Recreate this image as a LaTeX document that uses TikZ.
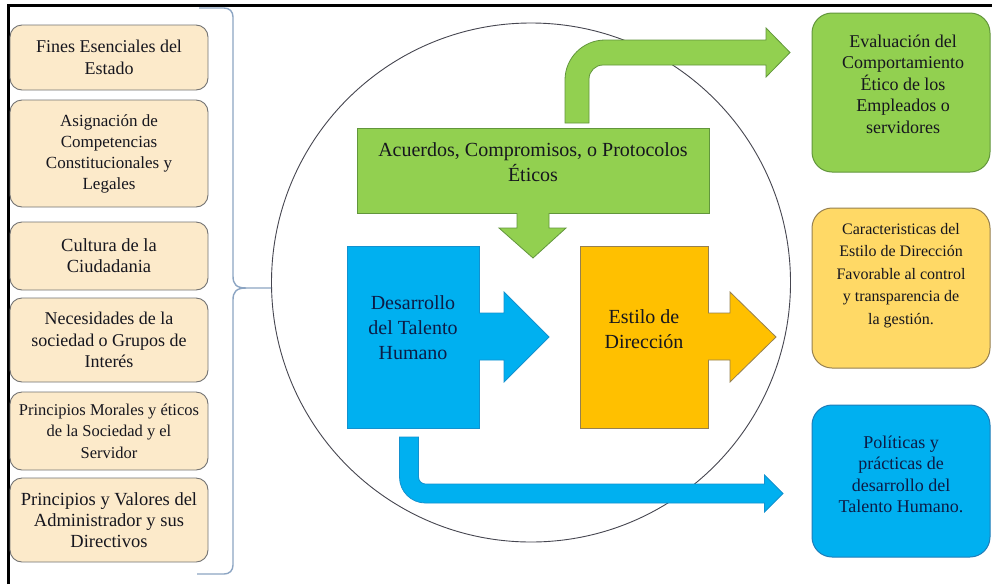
\documentclass[tikz,border=0pt]{standalone}
\usepackage{fontspec}
\setmainfont{Liberation Serif}
\definecolor{peachfill}{RGB}{252,234,202}
\definecolor{boxgray}{RGB}{115,115,115}
\definecolor{gfill}{RGB}{146,208,80}
\definecolor{gline}{RGB}{98,150,60}
\definecolor{bfill}{RGB}{0,176,240}
\definecolor{bline}{RGB}{30,125,185}
\definecolor{ofill}{RGB}{255,192,0}
\definecolor{oline}{RGB}{150,128,80}
\definecolor{yfill}{RGB}{255,217,102}
\definecolor{ringcol}{RGB}{70,70,80}
\definecolor{bracecol}{RGB}{140,165,195}
\definecolor{ink}{RGB}{22,22,30}
\definecolor{navy}{RGB}{12,28,70}
\begin{document}
\begin{tikzpicture}[x=1pt,y=-1pt,
  leftbox/.style={draw=boxgray, fill=peachfill, rounded corners=12pt, line width=0.9pt,
    minimum width=198pt, inner sep=0pt, align=center, text=ink},
  rightbox/.style={rounded corners=20pt, line width=1pt, minimum width=178pt, inner sep=0pt},
  blockbox/.style={inner sep=0pt, line width=0.8pt},
  lbl/.style={inner sep=0pt, align=center, text=ink},
  f16/.style={font={\fontsize{16}{22.5}\selectfont}},
  f165/.style={font={\fontsize{16.5}{21.5}\selectfont}},
  f17/.style={font={\fontsize{17}{21}\selectfont}},
  f18/.style={font={\fontsize{18}{21.5}\selectfont}},
  f185/.style={font={\fontsize{18.5}{21}\selectfont}},
  f20/.style={font={\fontsize{20}{25}\selectfont}},
]
\useasboundingbox (0,0) rectangle (992,584);
\fill[white] (0,0) rectangle (992,584);

% frame on the top and left edges
\draw[line width=3pt, black] (8,584) -- (8,5) -- (992,5);

% central ring
\node[draw=ringcol, circle, line width=0.9pt, minimum size=519pt, inner sep=0pt] (ring) at (531,282.5) {};

% brace grouping the left column
\coordinate (tip) at (271,288);
\draw[bracecol, line width=1.4pt]
  (199,8) -- (224,8) .. controls (229.5,8) and (233,11.5) .. (233,17) -- (233,276)
  .. controls (233,284) and (236,288) .. (246,288) -- (tip);
\draw[bracecol, line width=1.4pt]
  (197,574) -- (224,574) .. controls (229.5,574) and (233,570.5) .. (233,565) -- (233,300)
  .. controls (233,292) and (236,288) .. (246,288);

% left column
\node[leftbox, f18, minimum height=65pt]  (lb1) at (109,57.5) {Fines Esenciales del\\Estado};
\node[leftbox, f17, minimum height=107pt] (lb2) at (109,153.5) {Asignación de\\Competencias\\Constitucionales y\\Legales};
\node[leftbox, f185, minimum height=68pt] (lb3) at (109,256) {Cultura de la\\Ciudadania};
\node[leftbox, f18, minimum height=84pt]  (lb4) at (109,340) {Necesidades de la\\sociedad o Grupos de\\Interés};
\node[leftbox, f165, minimum height=78pt] (lb5) at (109,431) {Principios Morales y éticos\\de la Sociedad y el\\Servidor};
\node[leftbox, f185, minimum height=84pt] (lb6) at (109,520) {Principios y Valores del\\Administrador y sus\\Directivos};

% green agreements block
\node[blockbox, draw=gline, fill=gfill, minimum width=352pt, minimum height=85pt] (gbox) at (533,170.5) {};
\node[lbl, f20] (gtext) at (533,162.5) {Acuerdos, Compromisos, o Protocolos\\Éticos};

% green arrow pointing down
\fill[gfill] (517,212.5) -- (517,228) -- (499,228) -- (533,258) -- (566,228) -- (549,228) -- (549,212.5) -- cycle;
\draw[gline, line width=0.8pt] (517,213) -- (517,228) -- (499,228) -- (533,258) -- (566,228) -- (549,228) -- (549,213);

% green bent arrow up and to the right
\draw[gline, fill=gfill, line width=0.8pt]
  (565,123) -- (565,80) .. controls (565,58) and (583,40) .. (605,40) -- (766,40) -- (766,28)
  -- (790,52.5) -- (766,77) -- (766,65) -- (603,65)
  .. controls (595.3,65) and (589,71.3) .. (589,79) -- (589,123) -- cycle;

% blue talent block and its arrow
\node[blockbox, draw=bline!60!bfill, fill=bfill, minimum width=132pt, minimum height=182pt] (bsq) at (413,337) {};
\fill[bfill] (478.5,313) -- (504,313) -- (504,292) -- (549,337) -- (504,382) -- (504,360) -- (478.5,360) -- cycle;
\draw[bline!60!bfill, line width=0.8pt] (479,313) -- (504,313) -- (504,292) -- (549,337) -- (504,382) -- (504,360) -- (479,360);
\node[lbl, f20, text=navy] (btext) at (413,328) {Desarrollo\\del Talento\\Humano};

% orange direction block and its arrow
\node[blockbox, draw=oline, fill=ofill, minimum width=128pt, minimum height=182pt] (osq) at (644,337) {};
\fill[ofill] (707.5,313) -- (730,313) -- (730,292) -- (776,337) -- (730,382) -- (730,360) -- (707.5,360) -- cycle;
\draw[oline, line width=0.8pt] (708,313) -- (730,313) -- (730,292) -- (776,337) -- (730,382) -- (730,360) -- (708,360);
\node[lbl, f20] (otext) at (644,329.5) {Estilo de\\Dirección};

% blue bent arrow down and to the right
\draw[bline!60!bfill, fill=bfill, line width=0.8pt]
  (399.5,437) -- (399.5,477) .. controls (399.5,491.4) and (411.1,503) .. (425.5,503)
  -- (764.5,503) -- (764.5,512) -- (783,493.5) -- (764.5,475) -- (764.5,484) -- (425.5,484)
  .. controls (421.6,484) and (418.5,480.9) .. (418.5,477) -- (418.5,437) -- cycle;

% right column
\node[rightbox, draw=gline, fill=gfill, minimum height=159pt] (rg) at (901,92.5) {};
\node[lbl, f18] (rgtext) at (903,84) {Evaluación del\\Comportamiento\\Ético de los\\Empleados o\\servidores};

\node[rightbox, draw=oline, fill=yfill, minimum height=160pt] (ro) at (901,288) {};
\node[lbl, f16] (rotext) at (901,275.5) {Caracteristicas del\\Estilo de Dirección\\Favorable al control\\y transparencia de\\la gestión.};

\node[rightbox, draw=bline, fill=bfill, minimum height=152pt] (rb) at (901,481) {};
\node[lbl, f18, text=navy] (rbtext) at (901,474.5) {Políticas y\\prácticas de\\desarrollo del\\Talento Humano.};
\end{tikzpicture}
\end{document}
